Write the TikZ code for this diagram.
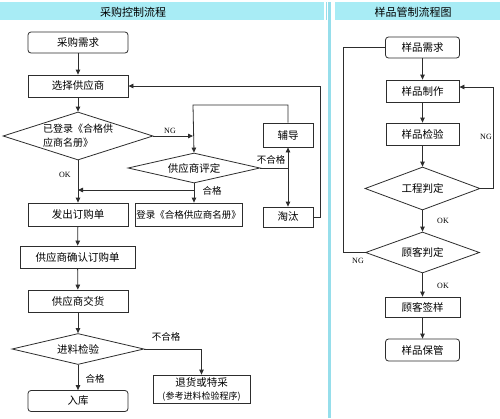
\documentclass[tikz,border=0pt]{standalone}
\usepackage{fontspec}
\setmainfont{Noto Sans CJK SC}
\newfontfamily\latinf{Liberation Serif}
\usetikzlibrary{shapes.geometric,arrows.meta,calc}
\definecolor{hdr}{RGB}{168,236,245}
\definecolor{sepc}{RGB}{150,222,235}
\definecolor{lc}{RGB}{45,45,45}
\begin{document}
\begin{tikzpicture}[x=1pt,y=-1pt,
  box/.style={draw=lc,line width=0.8pt,rectangle,inner sep=0pt,font=\fontsize{10.5}{12}\selectfont},
  rbox/.style={box,rounded corners=3pt},
  dia/.style={draw=lc,line width=0.8pt,diamond,inner sep=0pt,aspect=3,font=\fontsize{10.5}{12}\selectfont},
  arr/.style={draw=lc,line width=0.8pt,-{Triangle[length=5pt,width=4.5pt]}},
  plain/.style={draw=lc,line width=0.8pt},
  lab/.style={font=\fontsize{9.5}{11}\selectfont,inner sep=0pt},
  en/.style={font=\latinf\fontsize{8}{9}\selectfont,inner sep=0pt},
  ttl/.style={font=\fontsize{11}{12}\selectfont,inner sep=0pt}]
\useasboundingbox (0,0) rectangle (500,418);
\fill[white] (0,0) rectangle (500,418);
% headers and separator
\fill[hdr] (0,2) rectangle (324,20);
\fill[hdr] (335,2) rectangle (500,20);
\fill[sepc] (325.5,2) rectangle (327,20);
\fill[sepc] (328,2) rectangle (331,418);
\node[ttl] (t1) at (133,12) {采购控制流程};
\node[ttl] (t2) at (413,12) {样品管制流程图};

% ---------- left flow ----------
\node[rbox,minimum width=100pt,minimum height=21pt] (req) at (78,42.5) {采购需求};
\node[box,minimum width=100pt,minimum height=22pt] (sel) at (78,86) {选择供应商};
\node[dia,minimum width=150pt,minimum height=48pt,align=left,font=\fontsize{10}{14}\selectfont] (d1) at (78,136) {已登录《合格供\\应商名册》};
\node[dia,minimum width=132pt,minimum height=30pt] (d2) at (194,168) {供应商评定};
\node[box,minimum width=50pt,minimum height=24pt] (fd) at (288,135) {辅导};
\node[box,minimum width=50pt,minimum height=20pt] (tt) at (288,217) {淘汰};
\node[box,minimum width=100pt,minimum height=23pt] (po) at (78,214.5) {发出订购单};
\node[box,minimum width=107pt,minimum height=23pt,font=\fontsize{9.5}{11}\selectfont] (reg) at (188.5,214.5) {登录《合格供应商名册》};
\node[box,minimum width=115pt,minimum height=22pt] (conf) at (77.5,257) {供应商确认订购单};
\node[box,minimum width=100pt,minimum height=22pt] (dlv) at (78,301) {供应商交货};
\node[dia,minimum width=132pt,minimum height=31pt] (d3) at (78,349) {进料检验};
\node[box,minimum width=97pt,minimum height=28pt,align=center,font=\fontsize{10.5}{13}\selectfont] (ret) at (201.5,389) {退货或特采\\{\fontsize{9}{11}\selectfont (参考进料检验程序)}};
\node[rbox,minimum width=100pt,minimum height=21pt] (ware) at (78,401) {入库};

\coordinate (j1) at (193,105);
\coordinate (j2) at (288,168);
\coordinate (j3) at (78,190);

\draw[arr] (req) -- (sel);
\draw[arr] (sel) -- (d1);
\draw[arr] (d1.east) -- (d1.east -| j1);
\draw[arr] (fd.north) -- (fd.north |- j1) -- (j1) -- (d2.north);
\draw[plain] (d2.east) -- (j2);
\draw[arr] (j2) -- (fd.south);
\draw[arr] (j2) -- (tt.north);
\draw[arr] (tt.east) -- (320,217) -- (320,86) -- (sel.east);
\draw[arr] (d1.south) -- (po.north);
\draw[arr] (d2.south) -- (d2.south |- reg.north);
\draw[arr] (d2.south |- j3) -- (j3);
\draw[arr] (po) -- (conf);
\draw[arr] (conf) -- (dlv);
\draw[arr] (dlv) -- (d3);
\draw[arr] (d3.east) -- (d3.east -| ret.north) -- (ret.north);
\draw[arr] (d3.south) -- (ware.north);

\node[en] (lng1) at (170,131) {NG};
\node[en] (lok1) at (65,175) {OK};
\node[lab] (lbh1) at (271,160) {不合格};
\node[lab] (lh1) at (212,191) {合格};
\node[lab] (lbh2) at (166,337) {不合格};
\node[lab] (lh2) at (95,379) {合格};

% ---------- right flow ----------
\node[rbox,minimum width=74pt,minimum height=21pt] (sreq) at (422.5,47.5) {样品需求};
\node[box,minimum width=73pt,minimum height=22pt] (smk) at (422.5,91) {样品制作};
\node[box,minimum width=73pt,minimum height=22pt] (sck) at (422.5,134) {样品检验};
\node[dia,minimum width=115pt,minimum height=43pt] (d4) at (422.5,188.5) {工程判定};
\node[dia,minimum width=114pt,minimum height=41pt] (d5) at (422.5,252.5) {顾客判定};
\node[box,minimum width=75pt,minimum height=20pt] (ssg) at (422.5,307) {顾客签样};
\node[rbox,minimum width=74pt,minimum height=22pt] (skp) at (422.5,350) {样品保管};

\coordinate (r1) at (493,87);
\coordinate (r2) at (343,252.5);

\draw[arr] (sreq) -- (smk);
\draw[arr] (smk) -- (sck);
\draw[arr] (sck) -- (d4);
\draw[arr] (d4.east) -- (d4.east -| r1) -- (r1) -- (smk.east |- r1);
\draw[plain] (d5.west) -- (r2) -- (r2 |- sreq.west) -- (sreq.west);
\draw[arr] (d4.south) -- (d5.north);
\draw[arr] (d5.south) -- (ssg.north);
\draw[arr] (ssg) -- (skp);

\node[en] (rng1) at (486,137) {NG};
\node[en] (rng2) at (358,261) {NG};
\node[en] (rok1) at (443,221) {OK};
\node[en] (rok2) at (443,286) {OK};
\end{tikzpicture}
\end{document}
